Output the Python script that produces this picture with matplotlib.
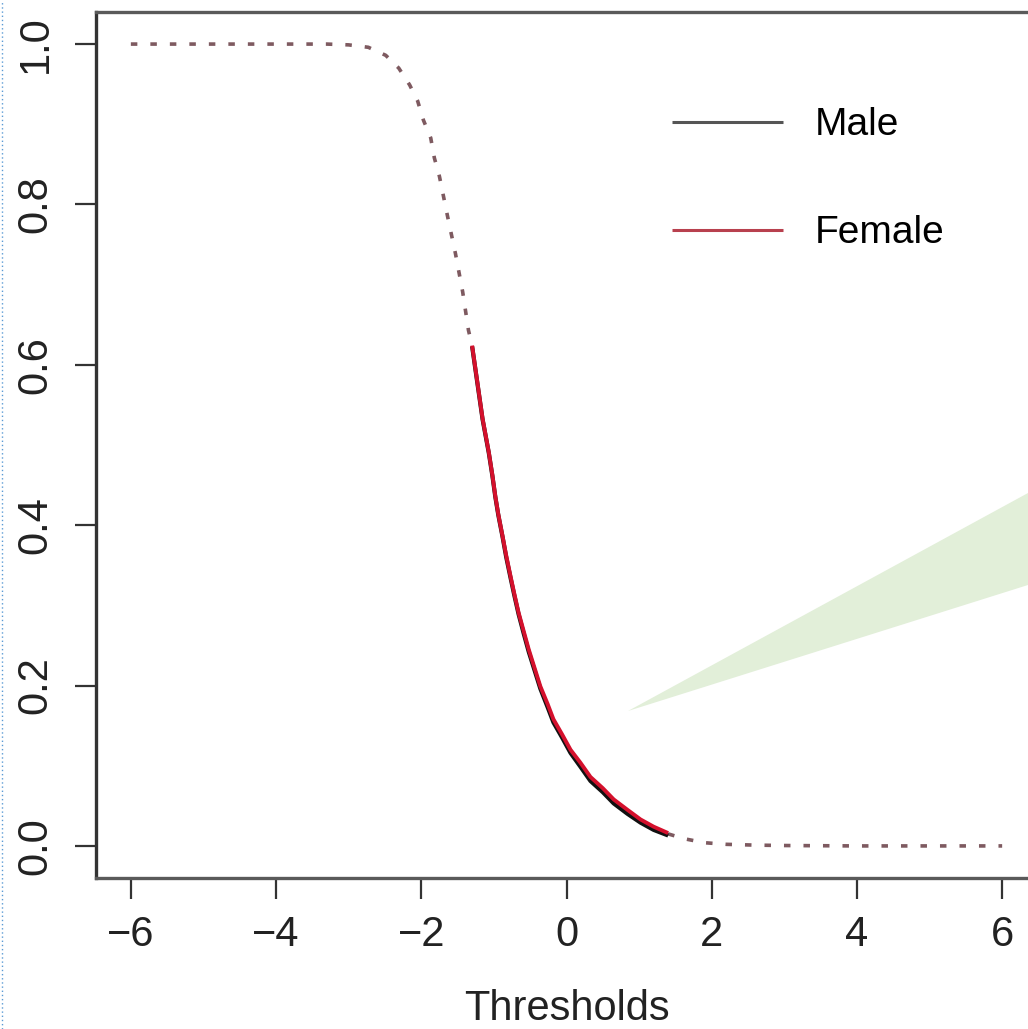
import matplotlib.pyplot as plt
import matplotlib.patches as mpatches
from matplotlib.lines import Line2D

plt.rcParams['font.family'] = ['Liberation Sans', 'DejaVu Sans']

# dotted (extrapolated) parts, shared by both curves
upper_x = [-6.0, -5.0, -4.0, -3.3, -3.0, -2.73, -2.49, -2.31, -2.16, -2.05, -1.97,
           -1.87, -1.82, -1.75, -1.64, -1.53, -1.43, -1.35, -1.30]
upper_y = [1.0, 1.0, 1.0, 1.0, 0.999, 0.996, 0.986, 0.970, 0.949, 0.929, 0.905,
           0.883, 0.858, 0.835, 0.786, 0.739, 0.691, 0.643, 0.624]
lower_x = [1.40, 1.62, 1.9, 2.2, 2.6, 3.0, 4.0, 5.0, 6.0]
lower_y = [0.015, 0.009, 0.004, 0.002, 0.001, 0.0005, 0.0, 0.0, 0.0]

# observed range
obs_x = [-1.30, -1.156, -1.07, -1.02, -0.98, -0.94, -0.88, -0.83, -0.77, -0.72,
         -0.66, -0.59, -0.52, -0.44, -0.36, -0.26, -0.18, -0.06, 0.055, 0.19,
         0.33, 0.50, 0.65, 0.84, 1.02, 1.20, 1.40]
female_y = [0.624, 0.533, 0.491, 0.462, 0.436, 0.414, 0.386, 0.362, 0.336, 0.315,
            0.291, 0.268, 0.245, 0.222, 0.199, 0.177, 0.158, 0.139, 0.120, 0.104,
            0.086, 0.072, 0.058, 0.045, 0.033, 0.024, 0.016]
male_y = [0.623, 0.532, 0.490, 0.461, 0.435, 0.413, 0.385, 0.360, 0.334, 0.313,
          0.289, 0.265, 0.242, 0.219, 0.196, 0.173, 0.154, 0.135, 0.116, 0.099,
          0.081, 0.067, 0.053, 0.040, 0.029, 0.020, 0.013]

xticks = [-6, -4, -2, 0, 2, 4, 6]
yticks = [0.0, 0.2, 0.4, 0.6, 0.8, 1.0]

W, H = 1028, 1029
fig = plt.figure(figsize=(W / 100, H / 100), dpi=100)
ax = fig.add_axes([96 / W, (H - 878) / H, 941 / W, 866 / H])

red = '#d4102c'
dot_col = '#7e5a60'
for xs, ys in [(upper_x, upper_y), (lower_x, lower_y)]:
    ax.plot(xs, ys, color=dot_col, lw=2.6, dashes=(1.8, 3.6), dash_capstyle='butt')
ax.plot(obs_x, male_y, color='#111111', lw=3.0, label='Male',
        solid_capstyle='butt', solid_joinstyle='round')
ax.plot(obs_x, female_y, color=red, lw=2.8, label='Female',
        solid_capstyle='butt', solid_joinstyle='round')

ax.set_xlim(-6.48, 6.48)
ax.set_ylim(-0.04, 1.04)
ax.set_xticks(xticks)
ax.set_xticklabels(['\u22126', '\u22124', '\u22122', '0', '2', '4', '6'])
ax.set_yticks(yticks)
ax.set_yticklabels(['0.0', '0.2', '0.4', '0.6', '0.8', '1.0'], rotation=90, va='center')
ax.tick_params(direction='out', length=15, width=1.6, color='#333333', labelsize=30,
               labelcolor='#222222')
ax.tick_params(axis='x', pad=12)
ax.tick_params(axis='y', pad=14)
for s in ax.spines.values():
    s.set_color('#5a5a5a')
    s.set_linewidth(2.4)
ax.spines['left'].set_color('#333333')
ax.set_xlabel('Thresholds', fontsize=30, color='#222222', labelpad=24)

leg = ax.legend(loc='upper left', bbox_to_anchor=(0.612, 0.89), frameon=False,
                fontsize=28, handlelength=2.85, handletextpad=0.83, labelspacing=1.85,
                borderpad=0, borderaxespad=0)
for h in leg.get_lines():
    h.set_linewidth(2.2)
leg.get_lines()[0].set_color('#555555')
leg.get_lines()[1].set_color('#b8404e')

# light green callout wedge overlaid on the right
tri = mpatches.Polygon([(628 / W, 1 - 711 / H), (1.0, 1 - 493 / H), (1.0, 1 - 585 / H)],
                       closed=True, transform=fig.transFigure, facecolor='#e2efd9',
                       edgecolor='none', zorder=5)
fig.patches.append(tri)

# page border on the far left
fig.lines.append(Line2D([1.5 / W, 1.5 / W], [0, 1], transform=fig.transFigure,
                        color='#5b9bd5', lw=1, linestyle=(0, (1, 2))))

fig.savefig('out.png', dpi=100)
